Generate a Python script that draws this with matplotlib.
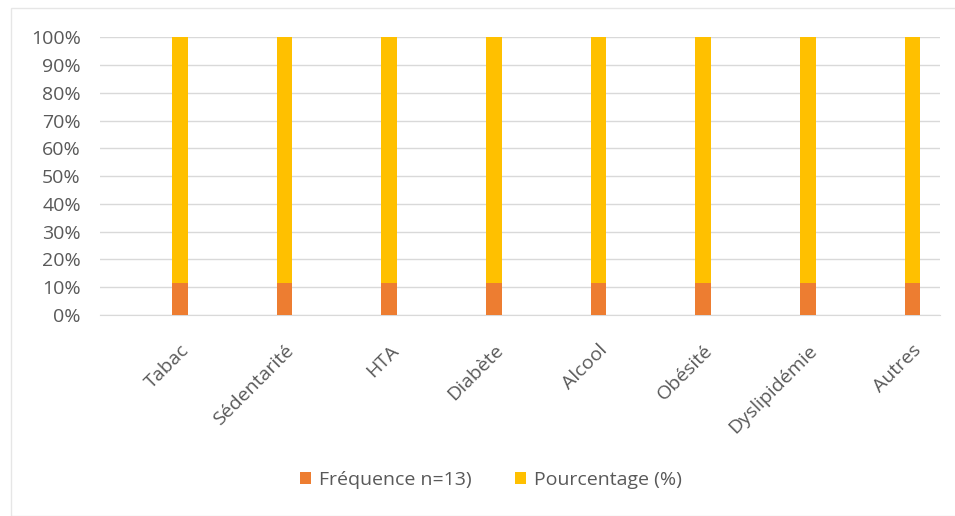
import matplotlib.pyplot as plt
import numpy as np
from matplotlib.patches import Rectangle

categories = ['Tabac', 'Sédentarité', 'HTA', 'Diabète', 'Alcool', 'Obésité', 'Dyslipidémie', 'Autres']
frequence = [8, 6, 5, 4, 3, 3, 2, 1]
pourcentage = [61.5, 46.2, 38.5, 30.8, 23.1, 23.1, 15.4, 7.7]

plt.rcParams['font.family'] = ['Open Sans', 'DejaVu Sans']
text_color = '#595959'

freq = np.array(frequence, dtype=float)
pct = np.array(pourcentage, dtype=float)
total = freq + pct
freq_share = freq / total * 100
pct_share = pct / total * 100

fig = plt.figure(figsize=(9.55, 5.16), dpi=100)
ax = fig.add_axes([0.105, 0.3895, 0.879, 0.5385])

x = np.arange(len(categories))
w = 0.15
ax.bar(x, freq_share, w, color='#ED7D31', label='Fréquence n=13)', zorder=3)
ax.bar(x, pct_share, w, bottom=freq_share, color='#FFC000', label='Pourcentage (%)', zorder=3)

# bars sit right of centre in the original layout
ax.set_xlim(-0.76, len(categories) - 0.74)
ax.set_ylim(0, 100)
ax.set_yticks(range(0, 101, 10))
ax.set_yticklabels([f'{v}%' for v in range(0, 101, 10)])
ax.yaxis.grid(True, color='#D9D9D9', linewidth=1, zorder=0)
ax.set_xticks(x)
ax.set_xticklabels(categories, rotation=45, ha='right', rotation_mode='anchor')
ax.tick_params(axis='both', length=0, colors=text_color, labelsize=14)
ax.tick_params(axis='y', pad=14)
ax.tick_params(axis='x', pad=19)
for s in ['top', 'right', 'left']:
    ax.spines[s].set_visible(False)
ax.spines['bottom'].set_color('#D9D9D9')

fig.legend(loc='center', bbox_to_anchor=(0.514, 0.07), ncol=2, frameon=False,
           fontsize=14, labelcolor=text_color, handlelength=0.6, handleheight=0.6,
           columnspacing=2.2, handletextpad=0.4)

fig.patches.append(Rectangle((0.011, 0.0), 1.2, 0.985, transform=fig.transFigure,
                             fill=False, edgecolor='#E6E6E6', linewidth=1))

plt.savefig('out.png', dpi=100)
